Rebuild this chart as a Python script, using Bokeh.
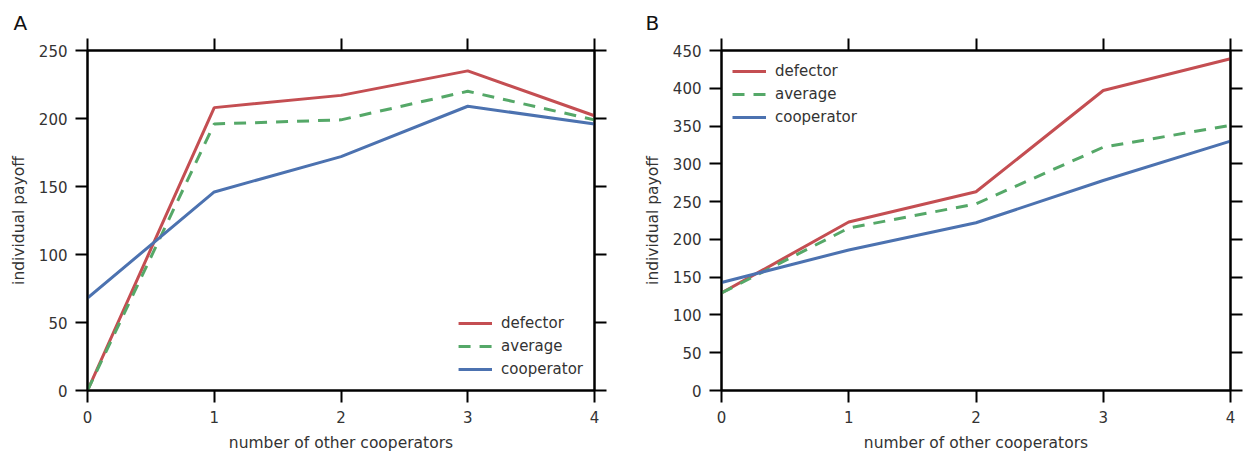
from bokeh.plotting import figure
from bokeh.layouts import row
from bokeh.models import LinearAxis, FixedTicker, Range1d, Legend, LegendItem, CustomJSTickFormatter
from bokeh.embed import file_html
from bokeh.resources import INLINE

# ---- data ----
x_vals = [0, 1, 2, 3, 4]
a_defector = [0, 208, 217, 235, 202]
a_average = [0, 196, 199, 220, 199]
a_cooperator = [68, 146, 172, 209, 196]

b_defector = [129, 223, 263, 397, 439]
b_average = [129, 215, 247, 322, 351]
b_cooperator = [143, 186, 222, 278, 330]

a_yticks = [0, 50, 100, 150, 200, 250]
b_yticks = [0, 50, 100, 150, 200, 250, 300, 350, 400, 450]
x_ticks = [0, 1, 2, 3, 4]
series_names = ["defector", "average", "cooperator"]

RED = "#c44e52"
GREEN = "#55a868"
BLUE = "#4c72b0"
FONT = "DejaVu Sans"
TXT = "#333333"


def style_axis(ax, labels=True):
    ax.axis_line_color = "black"
    ax.axis_line_width = 2
    ax.major_tick_line_color = "black"
    ax.major_tick_line_width = 2
    ax.major_tick_out = 12
    ax.major_tick_in = 0
    ax.minor_tick_line_color = None
    ax.major_label_text_font = FONT
    ax.major_label_text_color = TXT
    ax.major_label_text_font_size = "15px"
    if labels:
        ax.major_label_standoff = 8
    else:
        ax.formatter = CustomJSTickFormatter(code="return ''")
        ax.major_label_standoff = 0
    ax.axis_label_text_font = FONT
    ax.axis_label_text_font_size = "15.5px"
    ax.axis_label_text_font_style = "normal"
    ax.axis_label_text_color = TXT
    ax.axis_label_standoff = 8


def make_panel(width, left, right, ymax, yticks, dvals, avals, cvals,
               legend_loc, letter, letter_offset):
    p = figure(width=width, height=458, output_backend="svg", toolbar_location=None,
               x_range=Range1d(0, 4), y_range=Range1d(0, ymax),
               min_border_left=left, min_border_right=right,
               min_border_top=50, min_border_bottom=68,
               title=letter)
    p.title.text_font = FONT
    p.title.text_font_size = "20px"
    p.title.text_font_style = "normal"
    p.title.text_color = "#111111"
    p.title.align = "left"
    p.title.offset = letter_offset
    p.title.standoff = 8

    p.grid.grid_line_color = None
    p.outline_line_color = "black"
    p.outline_line_width = 2
    p.background_fill_color = "white"
    p.border_fill_color = "white"

    p.xaxis.ticker = FixedTicker(ticks=x_ticks)
    p.yaxis.ticker = FixedTicker(ticks=yticks)
    p.xaxis.axis_label = "number of other cooperators"
    p.yaxis.axis_label = "individual payoff"
    style_axis(p.xaxis[0])
    style_axis(p.yaxis[0])

    top = LinearAxis(ticker=FixedTicker(ticks=x_ticks))
    style_axis(top, labels=False)
    p.add_layout(top, "above")
    rt = LinearAxis(ticker=FixedTicker(ticks=yticks))
    style_axis(rt, labels=False)
    p.add_layout(rt, "right")

    r1 = p.line(x_vals, dvals, line_color=RED, line_width=3)
    r2 = p.line(x_vals, avals, line_color=GREEN, line_width=3, line_dash="12 9")
    r3 = p.line(x_vals, cvals, line_color=BLUE, line_width=3)

    leg = Legend(items=[LegendItem(label=series_names[0], renderers=[r1]),
                        LegendItem(label=series_names[1], renderers=[r2]),
                        LegendItem(label=series_names[2], renderers=[r3])],
                 location=legend_loc)
    leg.border_line_color = None
    leg.background_fill_alpha = 0
    leg.label_text_font = FONT
    leg.label_text_font_size = "15px"
    leg.label_text_color = TXT
    leg.glyph_width = 34
    leg.glyph_height = 20
    leg.label_height = 20
    leg.spacing = 3
    leg.margin = 11
    leg.padding = 6
    leg.label_standoff = 9
    p.add_layout(leg, "center")
    return p


pa = make_panel(620, 87, 26, 250, a_yticks, a_defector, a_average, a_cooperator,
                "bottom_right", "A", -74)
pb = make_panel(625, 101, 15, 450, b_yticks, b_defector, b_average, b_cooperator,
                "top_left", "B", -76)

layout = row(pa, pb)
open("out.html", "w").write(file_html(layout, INLINE))
